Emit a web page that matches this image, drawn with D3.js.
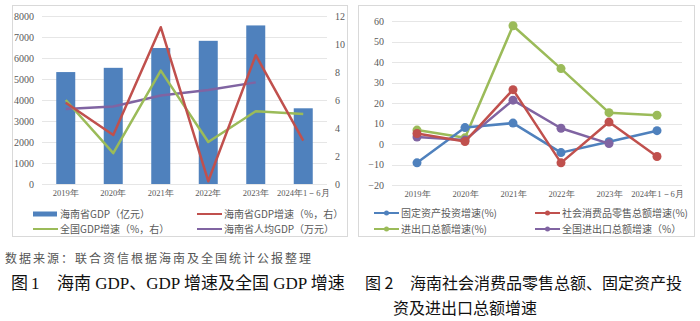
<!DOCTYPE html>
<html><head><meta charset="utf-8">
<script src="https://cdn.jsdelivr.net/npm/d3@7"></script>
<style>
html,body{margin:0;padding:0;background:#fff;}
svg{display:block;}
</style></head>
<body>
<svg id="c" width="700" height="321"></svg>
<script>
// ---------- data ----------
const categories = ["2019年","2020年","2021年","2022年","2023年","2024年1－6月"];
// Figure 1
const hainanGDP = [5330, 5532, 6475, 6818, 7551, 3605];          // 亿元 (left axis)
const hainanGDPGrowth = [5.8, 3.5, 11.2, 0.2, 9.2, 3.1];         // % right axis
const nationalGDPGrowth = [6.0, 2.2, 8.1, 3.0, 5.2, 5.0];        // % right axis
const hainanPerCapita = [5.36, 5.53, 6.32, 6.71, 7.26, null];    // 万元 right axis
const leftTicks = [0,1000,2000,3000,4000,5000,6000,7000,8000];
const rightTicks = [0,2,4,6,8,10,12];
// Figure 2
const fixedInvest = [-9.2, 8.0, 10.2, -4.2, 1.1, 6.5];
const retailSales = [5.1, 1.2, 26.5, -9.2, 10.7, -6.1];
const tradeGrowth = [6.8, 3.0, 57.7, 36.8, 15.3, 14.0];
const nationalTrade = [3.4, 1.9, 21.4, 7.7, 0.2, null];
const ticks2 = [-20,-10,0,10,20,30,40,50,60];

const C = {blue:"#4F81BD", red:"#C0504D", green:"#9BBB59", purple:"#8064A2"};
const svg = d3.select("#c");
const serif = "'Liberation Serif','Times New Roman',serif";
const cjk = "'Noto Sans CJK SC','Noto Sans',sans-serif";

// ---------- panel 1 ----------
svg.append("rect").attr("x",12.5).attr("y",5.5).attr("width",335).attr("height",231)
  .attr("fill","#fff").attr("stroke","#d9d9d9");
const x1 = d3.scaleBand().domain(categories).range([42,327]).paddingInner(0.6).paddingOuter(0.3);
const yL = d3.scaleLinear().domain([0,8000]).range([184,16]);
const yR = d3.scaleLinear().domain([0,12]).range([184,16]);
const g1 = svg.append("g");
// gridlines
g1.selectAll("line.grid").data(leftTicks).join("line")
  .attr("x1",42).attr("x2",327).attr("y1",d=>Math.round(yL(d))+0.5).attr("y2",d=>Math.round(yL(d))+0.5)
  .attr("stroke","#e6e6e6");
const axL = g1.append("g").attr("transform","translate(42,0)")
  .call(d3.axisLeft(yL).tickValues(leftTicks).tickFormat(d3.format("d")).tickSize(0).tickPadding(8));
axL.select(".domain").remove();
axL.selectAll("text").attr("font-family",serif).attr("font-size",10).attr("fill","#595959");
const axR = g1.append("g").attr("transform","translate(327,0)")
  .call(d3.axisRight(yR).tickValues(rightTicks).tickFormat(d3.format("d")).tickSize(0).tickPadding(8));
axR.select(".domain").remove();
axR.selectAll("text").attr("font-family",serif).attr("font-size",10).attr("fill","#595959");
const axB1 = g1.append("g").attr("transform","translate(0,184)")
  .call(d3.axisBottom(x1).tickSize(0).tickPadding(6));
axB1.select(".domain").remove();
axB1.selectAll("text").attr("font-family",serif).attr("font-size",8.5).attr("fill","#595959");
// bars
g1.selectAll("rect.bar").data(hainanGDP).join("rect")
  .attr("x",(d,i)=>x1(categories[i])).attr("width",x1.bandwidth())
  .attr("y",d=>yL(d)).attr("height",d=>yL(0)-yL(d))
  .attr("fill",C.blue);
const cx1 = i => x1(categories[i]) + x1.bandwidth()/2;
function line1(data,color){
  const ln = d3.line().defined(d=>d!=null).x((d,i)=>cx1(i)).y(d=>yR(d));
  g1.append("path").datum(data).attr("d",ln).attr("fill","none")
    .attr("stroke",color).attr("stroke-width",2.5).attr("stroke-linejoin","round");
}
line1(hainanPerCapita,C.purple);
line1(nationalGDPGrowth,C.green);
line1(hainanGDPGrowth,C.red);
// legend 1
const leg1 = [
  {t:"海南省GDP（亿元）",c:C.blue,bar:true,x:33,y:214},
  {t:"海南省GDP增速（%，右）",c:C.red,x:197,y:214},
  {t:"全国GDP增速（%，右）",c:C.green,x:33,y:229},
  {t:"海南省人均GDP（万元）",c:C.purple,x:197,y:229}
];
leg1.forEach(d=>{
  if(d.bar) svg.append("rect").attr("x",d.x).attr("y",d.y-2.5).attr("width",24).attr("height",5).attr("fill",d.c);
  else svg.append("line").attr("x1",d.x).attr("x2",d.x+25).attr("y1",d.y).attr("y2",d.y).attr("stroke",d.c).attr("stroke-width",2);
  svg.append("text").attr("x",d.x+27).attr("y",d.y).attr("dy","0.35em").attr("font-family",cjk)
    .attr("font-size",10).attr("fill","#595959").text(d.t);
});

// ---------- panel 2 ----------
svg.append("rect").attr("x",358.5).attr("y",5.5).attr("width",336).attr("height",231)
  .attr("fill","#fff").attr("stroke","#d9d9d9");
const x2 = d3.scalePoint().domain(categories).range([417,657]);
const y2 = d3.scaleLinear().domain([-20,60]).range([185,21]);
const g2 = svg.append("g");
g2.selectAll("line.grid").data(ticks2).join("line")
  .attr("x1",392).attr("x2",682).attr("y1",d=>Math.round(y2(d))+0.5).attr("y2",d=>Math.round(y2(d))+0.5)
  .attr("stroke","#e6e6e6");
const ax2 = g2.append("g").attr("transform","translate(392,0)")
  .call(d3.axisLeft(y2).tickValues(ticks2).tickFormat(d3.format("d")).tickSize(0).tickPadding(8));
ax2.select(".domain").remove();
ax2.selectAll("text").attr("font-family",serif).attr("font-size",10).attr("fill","#595959");
const axB2 = g2.append("g").attr("transform","translate(0,185)")
  .call(d3.axisBottom(x2).tickSize(0).tickPadding(6));
axB2.select(".domain").remove();
axB2.selectAll("text").attr("font-family",serif).attr("font-size",8.5).attr("fill","#595959");
function line2(data,color){
  const ln = d3.line().defined(d=>d!=null).x((d,i)=>x2(categories[i])).y(d=>y2(d));
  g2.append("path").datum(data).attr("d",ln).attr("fill","none")
    .attr("stroke",color).attr("stroke-width",2.5).attr("stroke-linejoin","round");
  g2.append("g").selectAll("circle").data(data.map((v,i)=>({v,i})).filter(d=>d.v!=null)).join("circle")
    .attr("cx",d=>x2(categories[d.i])).attr("cy",d=>y2(d.v)).attr("r",4.5).attr("fill",color);
}
line2(tradeGrowth,C.green);
line2(fixedInvest,C.blue);
line2(nationalTrade,C.purple);
line2(retailSales,C.red);
const leg2 = [
  {t:"固定资产投资增速(%)",c:C.blue,x:374,y:213},
  {t:"社会消费品零售总额增速(%)",c:C.red,x:535,y:213},
  {t:"进出口总额增速(%)",c:C.green,x:374,y:229},
  {t:"全国进出口总额增速（%）",c:C.purple,x:535,y:229}
];
leg2.forEach(d=>{
  svg.append("line").attr("x1",d.x).attr("x2",d.x+25).attr("y1",d.y).attr("y2",d.y).attr("stroke",d.c).attr("stroke-width",2);
  svg.append("circle").attr("cx",d.x+12.5).attr("cy",d.y).attr("r",2.5).attr("fill",d.c);
  svg.append("text").attr("x",d.x+27).attr("y",d.y).attr("dy","0.35em").attr("font-family",cjk)
    .attr("font-size",10).attr("fill","#595959").text(d.t);
});

// ---------- captions ----------
svg.append("text").attr("x",5).attr("y",259).attr("dy","0.35em").attr("font-family",cjk)
  .attr("font-size",12).attr("letter-spacing",2).attr("fill","#555").text("数据来源：联合资信根据海南及全国统计公报整理");
const t1 = svg.append("text").attr("x",11).attr("y",283).attr("dy","0.35em")
  .attr("font-family","'Liberation Serif','Noto Sans CJK SC',serif").attr("font-size",17).attr("fill","#111");
t1.append("tspan").attr("font-family",cjk).text("图");
t1.append("tspan").attr("x",31).text("1");
t1.append("tspan").attr("x",57).attr("font-family",cjk).text("海南");
t1.append("tspan").text(" GDP");
t1.append("tspan").attr("font-family",cjk).text("、");
t1.append("tspan").text("GDP ");
t1.append("tspan").attr("font-family",cjk).text("增速及全国");
t1.append("tspan").text(" GDP ");
t1.append("tspan").attr("font-family",cjk).text("增速");
const t2 = svg.append("text").attr("y",283).attr("dy","0.35em").attr("font-family",cjk)
  .attr("font-size",16).attr("fill","#111");
t2.append("tspan").attr("x",365).text("图 2");
t2.append("tspan").attr("x",410).text("海南社会消费品零售总额、固定资产投");
svg.append("text").attr("x",393).attr("y",308).attr("dy","0.35em").attr("font-family",cjk)
  .attr("font-size",16).attr("fill","#111").text("资及进出口总额增速");
</script>
</body></html>
